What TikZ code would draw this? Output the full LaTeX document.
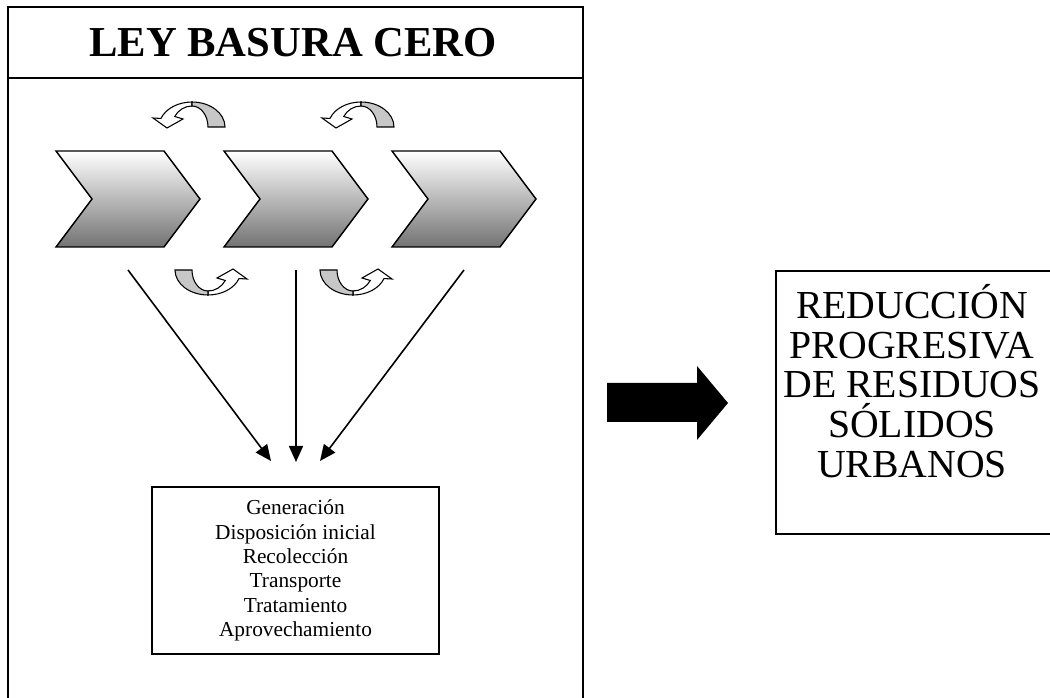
\documentclass[tikz,border=0pt]{standalone}
\usepackage{fontspec}
\setmainfont{Liberation Serif}
\usetikzlibrary{arrows.meta,positioning}

\begin{document}
\begin{tikzpicture}
    [x=0.75pt,y=-0.75pt,
    marco/.style={draw=black,line width=1.1pt},
    etapa/.style={draw=black,line width=1.1pt,top color=white,bottom color=black!55},
    cinta/.style={draw=black,line width=0.8pt,fill=black!22},
    cintab/.style={draw=black,line width=0.8pt,fill=white},
    flecha/.style={line width=1.2pt,-{Triangle[length=12pt,width=10.5pt]}},
    lista/.style={draw=black,line width=1pt,inner sep=0pt,
    minimum width=215.25pt,minimum height=125.25pt,align=center,
    font=\fontsize{16}{18.2}\selectfont},
    resultado/.style={draw=black,line width=1pt,inner sep=0pt,
    minimum width=206.25pt,minimum height=197.25pt}]
    \useasboundingbox (0,0) rectangle (1050,698);
    % marco de la ley
    \draw[marco] (8,7) rectangle (583,702);
    \draw[marco] (8,78) -- (583,78);
    \node[anchor=base,font=\fontsize{32}{38}\selectfont\bfseries] (titulo) at (293,57) {LEY BASURA CERO};
    % etapas
    \foreach \l in {56,224,392}
        \path[etapa] (\l,151) -- (\l+108,151) -- (\l+144,199) -- (\l+108,247)
            -- (\l,247) -- (\l+36,199) -- cycle;
    % flechas curvas
    \foreach \cx/\cy/\rot in {192/127/0,361/127/0,208/270/180,353/270/180}
    {
        \begin{scope}[shift={(\cx,\cy)},rotate=\rot]
            \draw[cintab] (0,-25) arc[start angle=-90,end angle=-160,x radius=33,y radius=25]
                -- (-39,-9) -- (-25,1) -- (-9,-8) -- (-17.3,-10.5)
                arc[start angle=-150,end angle=-90,x radius=20,y radius=21] -- cycle;
            \draw[cinta] (33,0) arc[start angle=0,end angle=-90,x radius=33,y radius=25]
                -- (0,-21) arc[start angle=-90,end angle=0,x radius=16,y radius=21] -- cycle;
        \end{scope}
    }
    \coordinate (s1) at (128,270);
    \coordinate (s2) at (296,270);
    \coordinate (s3) at (464,270);
    \coordinate (e1) at (271,461);
    \coordinate (e2) at (296,462);
    \coordinate (e3) at (320,461);
    \draw[flecha] (s1) -- (e1);
    \draw[flecha] (s2) -- (e2);
    \draw[flecha] (s3) -- (e3);
    \node[lista] (etapas) at (295.5,570.5) {Generación\\Disposición inicial\\Recolección\\Transporte\\Tratamiento\\Aprovechamiento};
    % resultado
    \fill (607,383) -- (697,383) -- (697,366) -- (728,403) -- (697,440) -- (697,422) -- (607,422) -- cycle;
    \node[resultado] (reduccion) at (913.5,402.5) {};
    \node[align=center,inner sep=0pt,font=\fontsize{29.8}{29.7}\selectfont] (reduccion texto) at (912,381)
        {REDUCCIÓN\\PROGRESIVA\\DE RESIDUOS\\SÓLIDOS\\URBANOS};
\end{tikzpicture}
\end{document}
